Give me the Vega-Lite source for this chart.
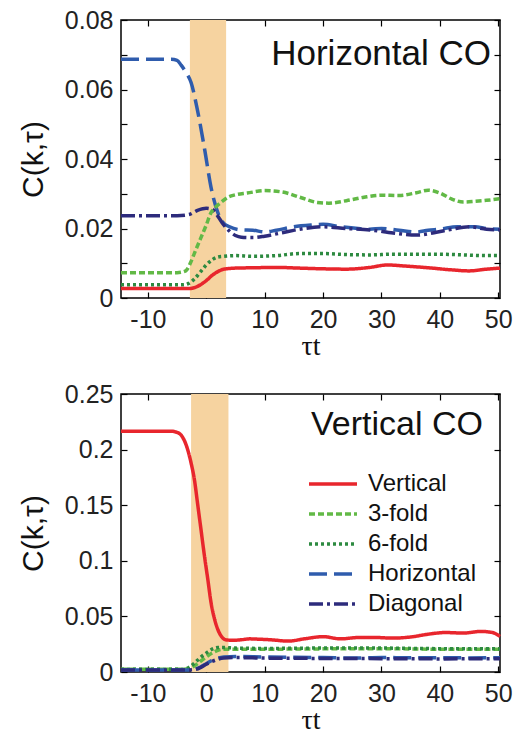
{
"$schema": "https://vega.github.io/schema/vega-lite/v6.json",
"padding": {"left": 17, "top": 7, "right": 8, "bottom": 0},
"background": "white",
"config": {
  "font": "Liberation Sans",
  "view": {"stroke": "black", "strokeWidth": 1.5},
  "axis": {"domain": false, "grid": false, "tickSize": -6, "tickColor": "black", "tickWidth": 1.2, "labelFontSize": 25, "labelColor": "#222222", "labelFont": "Liberation Sans", "labelPadding": 14, "titleFontWeight": "normal", "titleColor": "#111111"},
  "axisX": {"labelPadding": 15}
},
"datasets": {
  "bands": [{"panel": "H", "start": -2.8, "end": 3.4}, {"panel": "V", "start": -2.6, "end": 3.8}],
  "curves": [
{"panel":"H","series":"Horizontal","t":-14.6,"v":0.0687},{"panel":"H","series":"Horizontal","t":-10,"v":0.0687},{"panel":"H","series":"Horizontal","t":-6,"v":0.0687},{"panel":"H","series":"Horizontal","t":-5,"v":0.0684},{"panel":"H","series":"Horizontal","t":-4.3,"v":0.067},{"panel":"H","series":"Horizontal","t":-3.5,"v":0.065},{"panel":"H","series":"Horizontal","t":-2.6,"v":0.062},{"panel":"H","series":"Horizontal","t":-1.5,"v":0.054},{"panel":"H","series":"Horizontal","t":-0.3,"v":0.043},{"panel":"H","series":"Horizontal","t":0.8,"v":0.032},{"panel":"H","series":"Horizontal","t":2.0,"v":0.0245},{"panel":"H","series":"Horizontal","t":3.0,"v":0.0215},{"panel":"H","series":"Horizontal","t":4,"v":0.0205},{"panel":"H","series":"Horizontal","t":6,"v":0.0196},{"panel":"H","series":"Horizontal","t":8,"v":0.0195},{"panel":"H","series":"Horizontal","t":10,"v":0.019},{"panel":"H","series":"Horizontal","t":12,"v":0.0195},{"panel":"H","series":"Horizontal","t":15,"v":0.0205},{"panel":"H","series":"Horizontal","t":18,"v":0.021},{"panel":"H","series":"Horizontal","t":20,"v":0.0212},{"panel":"H","series":"Horizontal","t":23,"v":0.0205},{"panel":"H","series":"Horizontal","t":26,"v":0.02},{"panel":"H","series":"Horizontal","t":28,"v":0.0198},{"panel":"H","series":"Horizontal","t":30,"v":0.02},{"panel":"H","series":"Horizontal","t":33,"v":0.0195},{"panel":"H","series":"Horizontal","t":36,"v":0.019},{"panel":"H","series":"Horizontal","t":38,"v":0.0195},{"panel":"H","series":"Horizontal","t":40,"v":0.0198},{"panel":"H","series":"Horizontal","t":43,"v":0.0205},{"panel":"H","series":"Horizontal","t":46,"v":0.0205},{"panel":"H","series":"Horizontal","t":48,"v":0.02},{"panel":"H","series":"Horizontal","t":50.3,"v":0.0198},
{"panel":"H","series":"Diagonal","t":-14.6,"v":0.0237},{"panel":"H","series":"Diagonal","t":-5,"v":0.0237},{"panel":"H","series":"Diagonal","t":-3,"v":0.024},{"panel":"H","series":"Diagonal","t":-1.5,"v":0.0252},{"panel":"H","series":"Diagonal","t":0,"v":0.0258},{"panel":"H","series":"Diagonal","t":1,"v":0.0255},{"panel":"H","series":"Diagonal","t":2,"v":0.0235},{"panel":"H","series":"Diagonal","t":3,"v":0.021},{"panel":"H","series":"Diagonal","t":4,"v":0.0192},{"panel":"H","series":"Diagonal","t":5,"v":0.018},{"panel":"H","series":"Diagonal","t":6,"v":0.0175},{"panel":"H","series":"Diagonal","t":8,"v":0.0174},{"panel":"H","series":"Diagonal","t":10,"v":0.0178},{"panel":"H","series":"Diagonal","t":13,"v":0.0188},{"panel":"H","series":"Diagonal","t":16,"v":0.0198},{"panel":"H","series":"Diagonal","t":20,"v":0.0205},{"panel":"H","series":"Diagonal","t":24,"v":0.02},{"panel":"H","series":"Diagonal","t":28,"v":0.0196},{"panel":"H","series":"Diagonal","t":32,"v":0.0187},{"panel":"H","series":"Diagonal","t":36,"v":0.0181},{"panel":"H","series":"Diagonal","t":39,"v":0.0188},{"panel":"H","series":"Diagonal","t":42,"v":0.0198},{"panel":"H","series":"Diagonal","t":45,"v":0.0205},{"panel":"H","series":"Diagonal","t":48,"v":0.0198},{"panel":"H","series":"Diagonal","t":50.3,"v":0.0196},
{"panel":"H","series":"3-fold","t":-14.6,"v":0.0073},{"panel":"H","series":"3-fold","t":-5,"v":0.0073},{"panel":"H","series":"3-fold","t":-4,"v":0.0075},{"panel":"H","series":"3-fold","t":-3.3,"v":0.0082},{"panel":"H","series":"3-fold","t":-2.6,"v":0.0105},{"panel":"H","series":"3-fold","t":-2,"v":0.013},{"panel":"H","series":"3-fold","t":-1,"v":0.017},{"panel":"H","series":"3-fold","t":0,"v":0.021},{"panel":"H","series":"3-fold","t":0.8,"v":0.0245},{"panel":"H","series":"3-fold","t":1.5,"v":0.026},{"panel":"H","series":"3-fold","t":2.5,"v":0.0275},{"panel":"H","series":"3-fold","t":3.7,"v":0.029},{"panel":"H","series":"3-fold","t":5,"v":0.0297},{"panel":"H","series":"3-fold","t":7,"v":0.0302},{"panel":"H","series":"3-fold","t":10,"v":0.0309},{"panel":"H","series":"3-fold","t":13,"v":0.0305},{"panel":"H","series":"3-fold","t":16,"v":0.029},{"panel":"H","series":"3-fold","t":19,"v":0.0275},{"panel":"H","series":"3-fold","t":21,"v":0.0273},{"panel":"H","series":"3-fold","t":24,"v":0.028},{"panel":"H","series":"3-fold","t":27,"v":0.029},{"panel":"H","series":"3-fold","t":30,"v":0.0296},{"panel":"H","series":"3-fold","t":33,"v":0.0295},{"panel":"H","series":"3-fold","t":36,"v":0.0303},{"panel":"H","series":"3-fold","t":38,"v":0.031},{"panel":"H","series":"3-fold","t":40,"v":0.0302},{"panel":"H","series":"3-fold","t":42,"v":0.0285},{"panel":"H","series":"3-fold","t":44,"v":0.0276},{"panel":"H","series":"3-fold","t":46,"v":0.0278},{"panel":"H","series":"3-fold","t":48,"v":0.0281},{"panel":"H","series":"3-fold","t":50.3,"v":0.0286},
{"panel":"H","series":"6-fold","t":-14.6,"v":0.0038},{"panel":"H","series":"6-fold","t":-4,"v":0.0038},{"panel":"H","series":"6-fold","t":-3,"v":0.0042},{"panel":"H","series":"6-fold","t":-2,"v":0.0055},{"panel":"H","series":"6-fold","t":-1,"v":0.0075},{"panel":"H","series":"6-fold","t":0,"v":0.0095},{"panel":"H","series":"6-fold","t":1,"v":0.011},{"panel":"H","series":"6-fold","t":2,"v":0.0118},{"panel":"H","series":"6-fold","t":3,"v":0.012},{"panel":"H","series":"6-fold","t":5,"v":0.0122},{"panel":"H","series":"6-fold","t":8,"v":0.012},{"panel":"H","series":"6-fold","t":12,"v":0.0122},{"panel":"H","series":"6-fold","t":16,"v":0.0128},{"panel":"H","series":"6-fold","t":20,"v":0.0128},{"panel":"H","series":"6-fold","t":24,"v":0.0125},{"panel":"H","series":"6-fold","t":28,"v":0.0124},{"panel":"H","series":"6-fold","t":32,"v":0.0126},{"panel":"H","series":"6-fold","t":36,"v":0.0126},{"panel":"H","series":"6-fold","t":40,"v":0.0126},{"panel":"H","series":"6-fold","t":44,"v":0.0124},{"panel":"H","series":"6-fold","t":48,"v":0.0122},{"panel":"H","series":"6-fold","t":50.3,"v":0.0122},
{"panel":"H","series":"Vertical","t":-14.6,"v":0.0027},{"panel":"H","series":"Vertical","t":-3,"v":0.0027},{"panel":"H","series":"Vertical","t":-2,"v":0.003},{"panel":"H","series":"Vertical","t":-1,"v":0.0038},{"panel":"H","series":"Vertical","t":0,"v":0.005},{"panel":"H","series":"Vertical","t":1,"v":0.0065},{"panel":"H","series":"Vertical","t":2,"v":0.0076},{"panel":"H","series":"Vertical","t":3,"v":0.0083},{"panel":"H","series":"Vertical","t":5,"v":0.0086},{"panel":"H","series":"Vertical","t":8,"v":0.0087},{"panel":"H","series":"Vertical","t":12,"v":0.0088},{"panel":"H","series":"Vertical","t":16,"v":0.0086},{"panel":"H","series":"Vertical","t":20,"v":0.0084},{"panel":"H","series":"Vertical","t":24,"v":0.0083},{"panel":"H","series":"Vertical","t":28,"v":0.0088},{"panel":"H","series":"Vertical","t":31,"v":0.0095},{"panel":"H","series":"Vertical","t":34,"v":0.0092},{"panel":"H","series":"Vertical","t":38,"v":0.0087},{"panel":"H","series":"Vertical","t":42,"v":0.0081},{"panel":"H","series":"Vertical","t":45,"v":0.0078},{"panel":"H","series":"Vertical","t":48,"v":0.0083},{"panel":"H","series":"Vertical","t":50.3,"v":0.0086},
{"panel":"V","series":"Vertical","t":-14.6,"v":0.2165},{"panel":"V","series":"Vertical","t":-6,"v":0.2165},{"panel":"V","series":"Vertical","t":-5,"v":0.2155},{"panel":"V","series":"Vertical","t":-4.3,"v":0.213},{"panel":"V","series":"Vertical","t":-3.5,"v":0.205},{"panel":"V","series":"Vertical","t":-2.6,"v":0.188},{"panel":"V","series":"Vertical","t":-2,"v":0.172},{"panel":"V","series":"Vertical","t":-1.5,"v":0.152},{"panel":"V","series":"Vertical","t":-1,"v":0.132},{"panel":"V","series":"Vertical","t":-0.3,"v":0.104},{"panel":"V","series":"Vertical","t":0.3,"v":0.082},{"panel":"V","series":"Vertical","t":0.8,"v":0.063},{"panel":"V","series":"Vertical","t":1.4,"v":0.048},{"panel":"V","series":"Vertical","t":2.0,"v":0.038},{"panel":"V","series":"Vertical","t":2.6,"v":0.032},{"panel":"V","series":"Vertical","t":3.3,"v":0.029},{"panel":"V","series":"Vertical","t":4.5,"v":0.0285},{"panel":"V","series":"Vertical","t":6,"v":0.029},{"panel":"V","series":"Vertical","t":7.5,"v":0.0298},{"panel":"V","series":"Vertical","t":9,"v":0.0295},{"panel":"V","series":"Vertical","t":11,"v":0.029},{"panel":"V","series":"Vertical","t":14,"v":0.0278},{"panel":"V","series":"Vertical","t":17,"v":0.03},{"panel":"V","series":"Vertical","t":20,"v":0.0318},{"panel":"V","series":"Vertical","t":23,"v":0.0298},{"panel":"V","series":"Vertical","t":26,"v":0.031},{"panel":"V","series":"Vertical","t":29,"v":0.031},{"panel":"V","series":"Vertical","t":32,"v":0.0305},{"panel":"V","series":"Vertical","t":35,"v":0.0315},{"panel":"V","series":"Vertical","t":38,"v":0.034},{"panel":"V","series":"Vertical","t":41,"v":0.0355},{"panel":"V","series":"Vertical","t":44,"v":0.035},{"panel":"V","series":"Vertical","t":47,"v":0.0365},{"panel":"V","series":"Vertical","t":49,"v":0.0355},{"panel":"V","series":"Vertical","t":50.3,"v":0.032},
{"panel":"V","series":"3-fold","t":-14.6,"v":0.0025},{"panel":"V","series":"3-fold","t":-4,"v":0.0025},{"panel":"V","series":"3-fold","t":-3,"v":0.003},{"panel":"V","series":"3-fold","t":-2,"v":0.0055},{"panel":"V","series":"3-fold","t":-1,"v":0.0095},{"panel":"V","series":"3-fold","t":0,"v":0.0135},{"panel":"V","series":"3-fold","t":1,"v":0.017},{"panel":"V","series":"3-fold","t":2,"v":0.0195},{"panel":"V","series":"3-fold","t":3,"v":0.0205},{"panel":"V","series":"3-fold","t":5,"v":0.0205},{"panel":"V","series":"3-fold","t":10,"v":0.0205},{"panel":"V","series":"3-fold","t":20,"v":0.0208},{"panel":"V","series":"3-fold","t":30,"v":0.021},{"panel":"V","series":"3-fold","t":40,"v":0.0205},{"panel":"V","series":"3-fold","t":50.3,"v":0.0205},
{"panel":"V","series":"6-fold","t":-14.6,"v":0.0025},{"panel":"V","series":"6-fold","t":-4,"v":0.0025},{"panel":"V","series":"6-fold","t":-3,"v":0.004},{"panel":"V","series":"6-fold","t":-2,"v":0.008},{"panel":"V","series":"6-fold","t":-1,"v":0.013},{"panel":"V","series":"6-fold","t":0,"v":0.017},{"panel":"V","series":"6-fold","t":1,"v":0.0205},{"panel":"V","series":"6-fold","t":2,"v":0.022},{"panel":"V","series":"6-fold","t":3,"v":0.022},{"panel":"V","series":"6-fold","t":5,"v":0.0215},{"panel":"V","series":"6-fold","t":10,"v":0.0212},{"panel":"V","series":"6-fold","t":20,"v":0.0215},{"panel":"V","series":"6-fold","t":30,"v":0.0215},{"panel":"V","series":"6-fold","t":40,"v":0.021},{"panel":"V","series":"6-fold","t":50.3,"v":0.021},
{"panel":"V","series":"Horizontal","t":-14.6,"v":0.0018},{"panel":"V","series":"Horizontal","t":-3,"v":0.0018},{"panel":"V","series":"Horizontal","t":-2,"v":0.0025},{"panel":"V","series":"Horizontal","t":-1,"v":0.0045},{"panel":"V","series":"Horizontal","t":0,"v":0.0075},{"panel":"V","series":"Horizontal","t":1,"v":0.0105},{"panel":"V","series":"Horizontal","t":2,"v":0.0125},{"panel":"V","series":"Horizontal","t":3,"v":0.0135},{"panel":"V","series":"Horizontal","t":5,"v":0.014},{"panel":"V","series":"Horizontal","t":10,"v":0.0135},{"panel":"V","series":"Horizontal","t":15,"v":0.0132},{"panel":"V","series":"Horizontal","t":20,"v":0.013},{"panel":"V","series":"Horizontal","t":25,"v":0.0125},{"panel":"V","series":"Horizontal","t":30,"v":0.013},{"panel":"V","series":"Horizontal","t":35,"v":0.0128},{"panel":"V","series":"Horizontal","t":40,"v":0.0128},{"panel":"V","series":"Horizontal","t":45,"v":0.0127},{"panel":"V","series":"Horizontal","t":50.3,"v":0.0128},
{"panel":"V","series":"Diagonal","t":-14.6,"v":0.0018},{"panel":"V","series":"Diagonal","t":-3,"v":0.0018},{"panel":"V","series":"Diagonal","t":-2,"v":0.0022},{"panel":"V","series":"Diagonal","t":-1,"v":0.004},{"panel":"V","series":"Diagonal","t":0,"v":0.007},{"panel":"V","series":"Diagonal","t":1,"v":0.0095},{"panel":"V","series":"Diagonal","t":2,"v":0.0115},{"panel":"V","series":"Diagonal","t":3,"v":0.0125},{"panel":"V","series":"Diagonal","t":5,"v":0.013},{"panel":"V","series":"Diagonal","t":10,"v":0.0125},{"panel":"V","series":"Diagonal","t":20,"v":0.0122},{"panel":"V","series":"Diagonal","t":30,"v":0.012},{"panel":"V","series":"Diagonal","t":40,"v":0.0118},{"panel":"V","series":"Diagonal","t":50.3,"v":0.012}
  ]
},
"bounds": "flush",
"spacing": 96,
"resolve": {"legend": {"color": "independent", "strokeDash": "independent"}},
"vconcat": [
 {
  "width": 379, "height": 278,
  "title": {"text": "Horizontal CO", "anchor": "end", "frame": "group", "offset": -64, "dx": -9, "fontSize": 35, "fontWeight": "normal", "font": "Liberation Sans", "color": "#111111"},
  "layer": [
   {"data": {"name": "bands"}, "transform": [{"filter": "datum.panel == 'H'"}],
    "mark": {"type": "rect", "color": "#f6d3a0"},
    "encoding": {
      "x": {"field": "start", "type": "quantitative", "scale": {"domain": [-14.6, 50.3], "nice": false, "zero": false}, "axis": {"orient": "top", "values": [-10,0,10,20,30,40,50], "labels": false, "title": null}},
      "x2": {"field": "end"},
      "y": {"datum": 0, "type": "quantitative", "axis": {"orient": "right", "values": [0,0.01,0.02,0.03,0.04,0.05,0.06,0.07,0.08], "labels": false, "title": null}},
      "y2": {"datum": 0.08}
    }},
   {"data": {"name": "curves"}, "transform": [{"filter": "datum.panel == 'H'"}],
    "mark": {"type": "line", "strokeWidth": 3.5, "interpolate": "monotone"},
    "encoding": {
      "x": {"field": "t", "type": "quantitative", "scale": {"domain": [-14.6, 50.3], "nice": false, "zero": false}, "axis": {"orient": "bottom", "values": [-10,0,10,20,30,40,50], "labelExpr": "datum.value < 0 ? '-' + abs(datum.value) : '' + datum.value", "title": "τt", "titleFont": "Liberation Serif", "titleFontSize": 28, "titlePadding": 0}},
      "y": {"field": "v", "type": "quantitative", "scale": {"domain": [0, 0.08], "nice": false}, "axis": {"orient": "left", "values": [0,0.01,0.02,0.03,0.04,0.05,0.06,0.07,0.08], "format": "~g", "labelExpr": "round(datum.value*100) % 2 == 0 ? datum.label : ''", "title": "C(k,τ)", "titleFontSize": 30, "titlePadding": 16}},
      "color": {"field": "series", "type": "nominal", "scale": {"domain": ["Vertical","3-fold","6-fold","Horizontal","Diagonal"], "range": ["#e8262d","#62b946","#2d8a40","#2f5cad","#2d2b7c"]}, "legend": null},
      "strokeDash": {"field": "series", "type": "nominal", "scale": {"domain": ["Vertical","3-fold","6-fold","Horizontal","Diagonal"], "range": [[1,0],[6,3],[3,3],[18,7],[14,4,3,4]]}, "legend": null}
    }}
  ],
  "resolve": {"axis": {"x": "independent", "y": "independent"}}
 },
 {
  "width": 379, "height": 278,
  "title": {"text": "Vertical CO", "anchor": "end", "frame": "group", "offset": -60, "dx": -17, "fontSize": 34, "fontWeight": "normal", "font": "Liberation Sans", "color": "#111111"},
  "layer": [
   {"data": {"name": "bands"}, "transform": [{"filter": "datum.panel == 'V'"}],
    "mark": {"type": "rect", "color": "#f6d3a0"},
    "encoding": {
      "x": {"field": "start", "type": "quantitative", "scale": {"domain": [-14.6, 50.3], "nice": false, "zero": false}, "axis": {"orient": "top", "values": [-10,0,10,20,30,40,50], "labels": false, "title": null}},
      "x2": {"field": "end"},
      "y": {"datum": 0, "type": "quantitative", "axis": {"orient": "right", "values": [0,0.05,0.1,0.15,0.2,0.25], "labels": false, "title": null}},
      "y2": {"datum": 0.25}
    }},
   {"data": {"name": "curves"}, "transform": [{"filter": "datum.panel == 'V'"}],
    "mark": {"type": "line", "strokeWidth": 3.5, "interpolate": "monotone"},
    "encoding": {
      "x": {"field": "t", "type": "quantitative", "scale": {"domain": [-14.6, 50.3], "nice": false, "zero": false}, "axis": {"orient": "bottom", "values": [-10,0,10,20,30,40,50], "labelExpr": "datum.value < 0 ? '-' + abs(datum.value) : '' + datum.value", "title": "τt", "titleFont": "Liberation Serif", "titleFontSize": 28, "titlePadding": 0}},
      "y": {"field": "v", "type": "quantitative", "scale": {"domain": [0, 0.25], "nice": false}, "axis": {"orient": "left", "values": [0,0.05,0.1,0.15,0.2,0.25], "format": "~g", "title": "C(k,τ)", "titleFontSize": 30, "titlePadding": 16}},
      "color": {"field": "series", "type": "nominal", "scale": {"domain": ["Vertical","3-fold","6-fold","Horizontal","Diagonal"], "range": ["#e8262d","#62b946","#2d8a40","#2f5cad","#2d2b7c"]}, "legend": {"orient": "none", "legendX": 198, "legendY": 76, "title": null, "symbolType": "M-2,0H2", "symbolSize": 576, "symbolStrokeWidth": 3.5, "labelFontSize": 24, "labelOffset": 21, "rowPadding": 4, "labelColor": "#111111", "labelFont": "Liberation Sans"}},
      "strokeDash": {"field": "series", "type": "nominal", "scale": {"domain": ["Vertical","3-fold","6-fold","Horizontal","Diagonal"], "range": [[1,0],[6,3],[3,3],[12,8],[14,4,3,4]]}, "legend": {"orient": "none", "legendX": 198, "legendY": 76, "title": null, "symbolType": "M-2,0H2", "symbolSize": 576, "symbolStrokeWidth": 3.5, "labelFontSize": 24, "labelOffset": 21, "rowPadding": 4, "labelColor": "#111111", "labelFont": "Liberation Sans"}}
    }}
  ],
  "resolve": {"axis": {"x": "independent", "y": "independent"}}
 }
]
}
